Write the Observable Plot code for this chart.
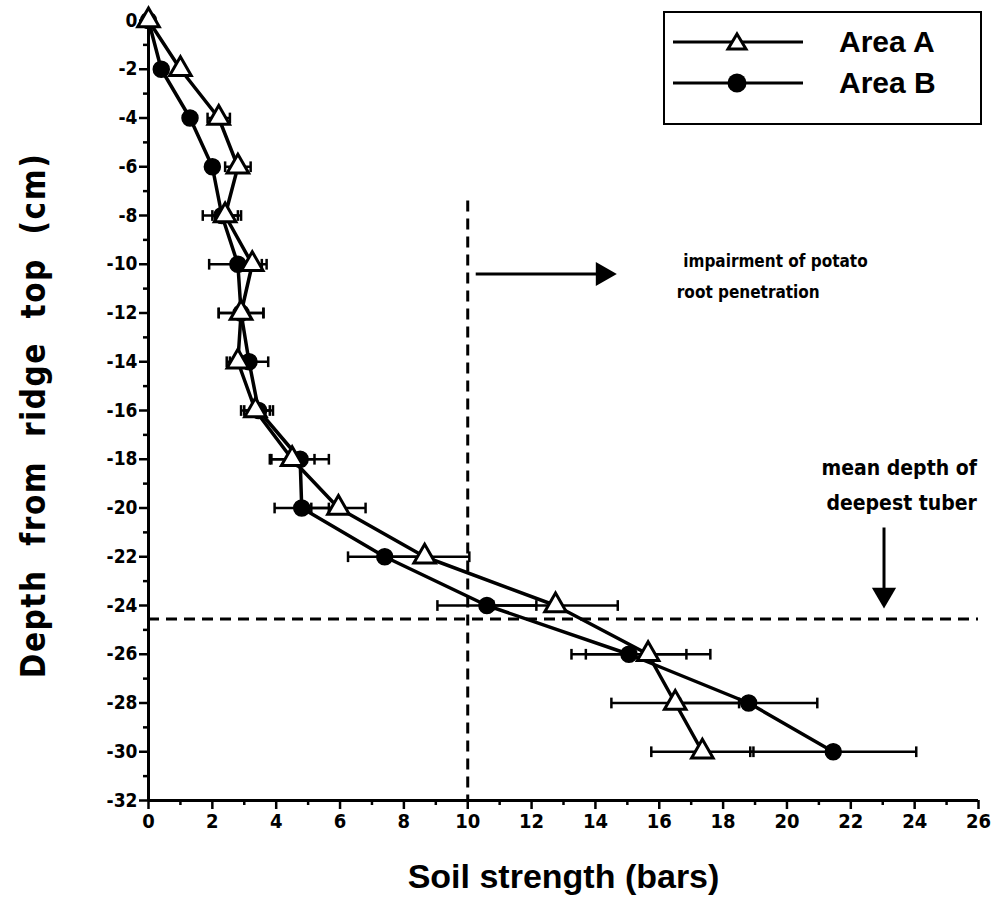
<!DOCTYPE html>
<html><head><meta charset="utf-8">
<script src="https://cdn.jsdelivr.net/npm/d3@7"></script>
<script src="https://cdn.jsdelivr.net/npm/@observablehq/plot@0.6"></script>
<style>
body{margin:0;background:#fff;}
#wrap{position:relative;width:999px;height:913px;background:#fff;}
#legend{position:absolute;left:663px;top:11px;width:315px;height:110px;border:2.5px solid #000;background:#fff;
  font-family:"Liberation Sans",Arial,sans-serif;font-weight:bold;font-size:30px;}
#legend .row{position:absolute;left:8px;height:30px;display:flex;align-items:center;}
#legend .row span{margin-left:34px;}
</style></head><body><div id="wrap"></div>
<script>
// depth (cm) of each measurement
const depths = [0,-2,-4,-6,-8,-10,-12,-14,-16,-18,-20,-22,-24,-26,-28,-30];
// soil strength (bars)
const areaA = [0,1.0,2.2,2.8,2.4,3.25,2.9,2.8,3.35,4.5,5.95,8.65,12.75,15.65,16.5,17.35];
const errA  = [0,0.2,0.35,0.4,0.4,0.3,0.7,0.35,0.45,0.7,0.85,1.4,1.95,1.95,2.0,1.6];
const areaB = [0,0.4,1.3,2.0,2.3,2.8,2.9,3.15,3.45,4.75,4.8,7.4,10.6,15.05,18.8,21.45];
const errB  = [0,0.1,0.1,0.15,0.6,0.9,0.7,0.6,0.45,0.9,0.85,1.15,1.55,1.8,2.15,2.6];
const seriesNames = ["Area A","Area B"];
const xTickValues = [0,2,4,6,8,10,12,14,16,18,20,22,24,26];
const xMinorTicks = [1,3,5,7,9,11,13,15,17,19,21,23,25];
const yTickValues = [0,-2,-4,-6,-8,-10,-12,-14,-16,-18,-20,-22,-24,-26,-28,-30,-32];
const yMinorTicks = [-1,-3,-5,-7,-9,-11,-13,-15,-17,-19,-21,-23,-25,-27,-29,-31];
const xTitle = "Soil strength (bars)";
const yTitle = "Depth\u00a0 from\u00a0 ridge\u00a0 top\u00a0 (cm)";
// annotations
const impairmentStrength = [10];      // vertical dashed line (bars)
const impairmentTop = -7.4;
const tuberDepth = [-24.55];          // horizontal dashed line (cm)
const rightArrow = [{x1:10.25, x2:14.42, y:-10.4}];
const downArrow = [{x:23.04, y1:-20.8, y2:-23.8}];
const impairmentLabels = [{x:16.75, y:-9.9, t:"impairment of potato"},{x:16.55, y:-11.15, t:"root penetration"}];
const tuberLabels = [{x:25.95, y:-18.35, t:"mean depth of"},{x:25.95, y:-19.8, t:"deepest tuber"}];

const rows = [];
depths.forEach((d,i)=>{
  rows.push({series:seriesNames[0], depth:d, value:areaA[i], err:errA[i]});
  rows.push({series:seriesNames[1], depth:d, value:areaB[i], err:errB[i]});
});
const rowsA = rows.filter(r=>r.series==="Area A");
const rowsB = rows.filter(r=>r.series==="Area B");
const capH = 0.22;
const caps = rows.filter(r=>r.err>0.25).flatMap(r=>[
  {x:r.value-r.err, y1:r.depth-capH, y2:r.depth+capH},
  {x:r.value+r.err, y1:r.depth-capH, y2:r.depth+capH}]);

const tickFont = `"Liberation Sans Narrow","DejaVu Sans Condensed","Liberation Sans",sans-serif`;
const annFont = tickFont;

const chart = Plot.plot({
  width: 999, height: 913,
  marginLeft: 148, marginRight: 21, marginTop: 20, marginBottom: 113,
  x: {domain:[0,26]},
  y: {domain:[-32,0]},
  style: {background:"#fff", color:"#000"},
  marks: [
    // axis lines
    Plot.ruleX([0], {y1:-32, y2:0, strokeWidth:3}),
    Plot.ruleY([-32], {x1:0, x2:26, strokeWidth:3}),
    Plot.axisX(xMinorTicks, {tickSize:5, tickFormat:()=>"", strokeWidth:2.5, label:null}),
    Plot.axisX(xTickValues, {tickSize:9, tickPadding:4, tickFormat:d=>String(d), strokeWidth:2.5,
      fontSize:20, fontWeight:"bold", fontFamily:tickFont, label:null}),
    Plot.axisY(yMinorTicks, {tickSize:5, tickFormat:()=>"", strokeWidth:2.5, label:null}),
    Plot.axisY(yTickValues, {tickSize:9, tickPadding:2, tickFormat:d=>String(d), strokeWidth:2.5,
      fontSize:19, fontWeight:"bold", fontFamily:tickFont, label:null}),
    // reference lines
    Plot.ruleX(impairmentStrength, {y1:impairmentTop, y2:-32, strokeWidth:3, strokeDasharray:"11,7"}),
    Plot.ruleY(tuberDepth, {x1:0, x2:26, strokeWidth:3, strokeDasharray:"11,7"}),
    // arrows
    Plot.link(rightArrow, {x1:"x1", x2:"x2", y1:"y", y2:"y", strokeWidth:3}),
    Plot.dot(rightArrow, {x:"x2", y:"y", symbol:"triangle", rotate:90, r:9, fill:"#000", stroke:"none", dx:-6}),
    Plot.link(downArrow, {x1:"x", x2:"x", y1:"y1", y2:"y2", strokeWidth:3}),
    Plot.dot(downArrow, {x:"x", y:"y2", symbol:"triangle", rotate:180, r:9, fill:"#000", stroke:"none", dy:-6}),
    Plot.text(impairmentLabels, {x:"x", y:"y", text:"t", textAnchor:"start", fontSize:17, fontWeight:"bold", fontFamily:annFont}),
    Plot.text(tuberLabels, {x:"x", y:"y", text:"t", textAnchor:"end", fontSize:21, fontWeight:"bold", fontFamily:annFont}),
    // error bars
    Plot.link(rows.filter(r=>r.err>0), {x1:r=>r.value-r.err, x2:r=>r.value+r.err, y1:"depth", y2:"depth", strokeWidth:2.5}),
    Plot.link(caps, {x1:"x", x2:"x", y1:"y1", y2:"y2", strokeWidth:2.5}),
    // lines
    Plot.line(rowsA, {x:"value", y:"depth", strokeWidth:3.5}),
    Plot.line(rowsB, {x:"value", y:"depth", strokeWidth:3.5}),
    // markers
    Plot.dot(rowsB, {x:"value", y:"depth", r:8, fill:"#000", stroke:"#000"}),
    Plot.dot(rowsA, {x:"value", y:"depth", symbol:"triangle", r:8, fill:"#fff", stroke:"#000", strokeWidth:3}),
    // axis titles
    Plot.text([xTitle], {frameAnchor:"bottom", textAnchor:"middle", dy:87, fontSize:34, fontWeight:"bold", fontFamily:`"Liberation Sans",Arial,sans-serif`}),
    Plot.text([yTitle], {frameAnchor:"left", textAnchor:"middle", dx:-114, dy:5, rotate:-90, fontSize:33, fontWeight:"bold", fontFamily:tickFont})
  ]
});
chart.querySelectorAll("text").forEach(t => { if (t.textContent === yTitle) t.style.letterSpacing = "1.5px"; });
const wrap = document.getElementById("wrap");
wrap.appendChild(chart);

// legend
const legend = document.createElement("div");
legend.id = "legend";
const mk = (sym, top, name) => {
  const row = document.createElement("div");
  row.className = "row"; row.style.top = top + "px";
  const shape = sym === "triangle"
    ? `<path d="M64,7 L73,22 L55,22 Z" fill="#fff" stroke="#000" stroke-width="3"/>`
    : `<circle cx="64" cy="15" r="9.5" fill="#000"/>`;
  row.innerHTML = `<svg width="132" height="30"><line x1="0" x2="130" y1="15" y2="15" stroke="#000" stroke-width="3"/>${shape}</svg><span>${name}</span>`;
  legend.appendChild(row);
};
mk("triangle", 14, seriesNames[0]);
mk("circle", 55, seriesNames[1]);
wrap.appendChild(legend);
</script></body></html>
